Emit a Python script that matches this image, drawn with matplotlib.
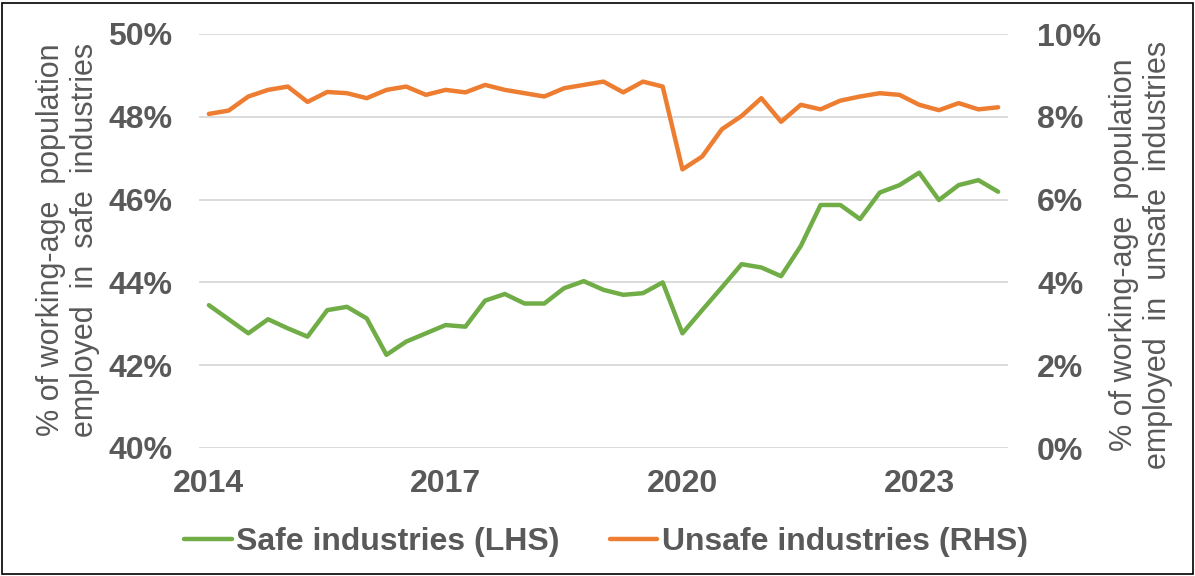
import matplotlib
matplotlib.use('Agg')
import matplotlib.pyplot as plt
from matplotlib.patches import Rectangle

# quarterly observations, 2014Q1 .. 2024Q1
quarters = [f"{y}Q{q}" for y in range(2014, 2025) for q in range(1, 5)][:41]

# % of working-age population employed in safe industries (LHS)
safe = [43.45, 43.11, 42.77, 43.11, 42.89, 42.69, 43.33, 43.41, 43.13, 42.25,
        42.57, 42.77, 42.97, 42.93, 43.56, 43.72, 43.49, 43.49, 43.86, 44.03,
        43.82, 43.70, 43.74, 44.00, 42.77, 43.33, 43.88, 44.44, 44.36, 44.15,
        44.88, 45.87, 45.87, 45.53, 46.17, 46.35, 46.65, 45.99, 46.35, 46.47,
        46.19]

# % of working-age population employed in unsafe industries (RHS)
unsafe = [8.07, 8.15, 8.49, 8.65, 8.73, 8.36, 8.60, 8.57, 8.45, 8.65,
          8.73, 8.53, 8.65, 8.59, 8.77, 8.65, 8.57, 8.49, 8.69, 8.77,
          8.85, 8.59, 8.85, 8.73, 6.73, 7.04, 7.70, 8.02, 8.45, 7.88,
          8.29, 8.18, 8.39, 8.49, 8.57, 8.53, 8.29, 8.16, 8.33, 8.18,
          8.23]

year_labels = ['2014', '2017', '2020', '2023']
left_ticks = [40, 42, 44, 46, 48, 50]
right_ticks = [0, 2, 4, 6, 8, 10]

GREEN = '#70AD47'
ORANGE = '#ED7D31'
TEXT = '#595959'
FS = 23

plt.rcParams['font.family'] = ['Liberation Sans', 'DejaVu Sans']

W, H = 1195, 576
fig = plt.figure(figsize=(W / 100, H / 100), dpi=100)
ax = fig.add_axes([199 / W, 1 - 448 / H, (1008 - 199) / W, (448 - 34) / H])
ax2 = ax.twinx()

x = list(range(len(quarters)))
l1, = ax.plot(x, safe, color=GREEN, linewidth=3.2, solid_capstyle='round',
              solid_joinstyle='round', label='Safe industries (LHS)')
l2, = ax2.plot(x, unsafe, color=ORANGE, linewidth=3.2, solid_capstyle='round',
               solid_joinstyle='round', label='Unsafe industries (RHS)')

ax.set_xlim(-0.5, len(quarters) - 0.5)
ax.set_ylim(40, 50)
ax2.set_ylim(0, 10)

year_pos = [quarters.index(f"{y}Q1") for y in year_labels]
ax.set_xticks(year_pos)
ax.set_xticklabels(year_labels)
ax.set_yticks(left_ticks)
ax.set_yticklabels([f"{v}%" for v in left_ticks])
ax2.set_yticks(right_ticks)
ax2.set_yticklabels([f"{v}%" for v in right_ticks])

ax.grid(axis='y', color='#D9D9D9', linewidth=1.3)
ax.set_axisbelow(True)
for a in (ax, ax2):
    for s in a.spines.values():
        s.set_visible(False)

ax.tick_params(axis='x', length=0, pad=15, labelsize=FS, labelcolor=TEXT)
ax.tick_params(axis='y', length=0, pad=19, labelsize=FS, labelcolor=TEXT)
ax2.tick_params(axis='y', length=0, pad=21, labelsize=FS, labelcolor=TEXT)
for lab in ax.get_xticklabels() + ax.get_yticklabels() + ax2.get_yticklabels():
    lab.set_fontweight('bold')

fig.text(68 / W, 1 - 240 / H,
         "% of working-age  population\nemployed  in  safe  industries",
         rotation=90, ha='center', va='center', multialignment='center',
         fontsize=22, color=TEXT, linespacing=1.2)
fig.text(1141 / W, 1 - 255 / H,
         "% of working-age  population\nemployed  in  unsafe  industries",
         rotation=90, ha='center', va='center', multialignment='center',
         fontsize=22, color=TEXT, linespacing=1.2)

fig.legend(handles=[l1, l2], loc='center', bbox_to_anchor=(606 / W, 1 - 542 / H),
           ncol=2, frameon=False, handlelength=1.5, handletextpad=0.15,
           columnspacing=1.55, prop={'size': FS, 'weight': 'bold'},
           labelcolor=TEXT)

fig.patches.append(Rectangle((2 / W, 2 / H), (W - 4) / W, (H - 5) / H,
                             transform=fig.transFigure, fill=False,
                             edgecolor='#000000', linewidth=1.2))

fig.savefig('out.png', dpi=100)
